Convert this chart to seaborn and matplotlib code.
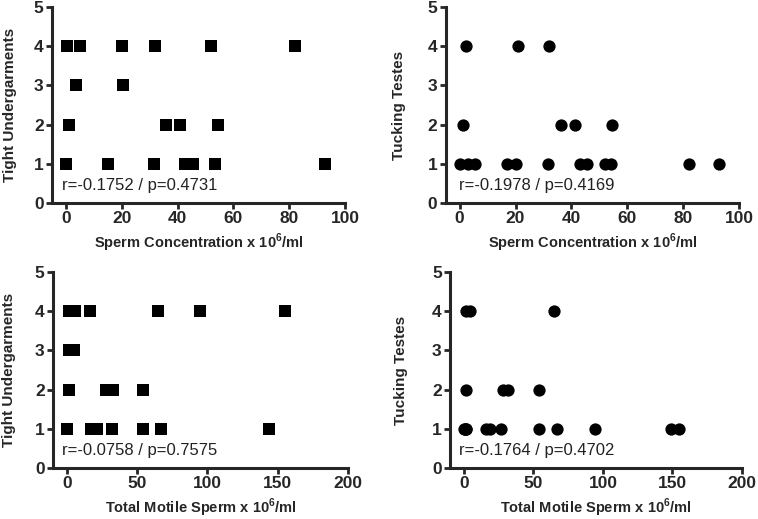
import numpy as np
import pandas as pd
import matplotlib
matplotlib.use("Agg")
import matplotlib.pyplot as plt
import seaborn as sns

# ── data ─────────────────────────────────────────────────────────────────────
# top-left: Tight Undergarments vs Sperm Concentration
tu_conc_x = [0.5, 5, 20, 32, 52, 82,
             3.5, 20.5,
             1.2, 36, 41, 54.5,
             0, 15, 31.5, 42.5, 45.5, 53.5, 93]
tu_conc_y = [4, 4, 4, 4, 4, 4,
             3, 3,
             2, 2, 2, 2,
             1, 1, 1, 1, 1, 1, 1]

# top-right: Tucking Testes vs Sperm Concentration
tt_conc_x = [2.2, 20.7, 32,
             1.2, 36.4, 41.2, 54.6,
             0, 3, 5.5, 17, 20, 31.6, 43, 45.5, 52, 54, 82, 93]
tt_conc_y = [4, 4, 4,
             2, 2, 2, 2,
             1, 1, 1, 1, 1, 1, 1, 1, 1, 1, 1, 1]

# bottom-left: Tight Undergarments vs Total Motile Sperm
tu_tms_x = [1.2, 5.5, 16.7, 64.8, 94.5, 155,
            1.5, 5,
            1.6, 28, 32.7, 54,
            0.2, 17, 21.5, 31.8, 54, 67, 144]
tu_tms_y = [4, 4, 4, 4, 4, 4,
            3, 3,
            2, 2, 2, 2,
            1, 1, 1, 1, 1, 1, 1]

# bottom-right: Tucking Testes vs Total Motile Sperm
tt_tms_x = [1.5, 4.5, 64.5,
            1.4, 27.8, 32, 53.8,
            0, 0.8, 1.8, 16, 19, 26.5, 54, 67, 94, 149, 155, 1.2]
tt_tms_y = [4, 4, 4,
            2, 2, 2, 2,
            1, 1, 1, 1, 1, 1, 1, 1, 1, 1, 1, 1]

stats_text = ["r=-0.1752 / p=0.4731", "r=-0.1978 / p=0.4169",
              "r=-0.0758 / p=0.7575", "r=-0.1764 / p=0.4702"]

conc_label = r"Sperm Concentration x 10$^{\mathbf{6}}$/ml"
tms_label = r"Total Motile Sperm x 10$^{\mathbf{6}}$/ml"

# ── style ─────────────────────────────────────────────────────────────────────
sns.set_style("ticks")
plt.rcParams["font.family"] = ["Liberation Sans", "DejaVu Sans"]
plt.rcParams["mathtext.fontset"] = "custom"
plt.rcParams["mathtext.rm"] = "Liberation Sans"
plt.rcParams["mathtext.bf"] = "Liberation Sans:bold"

fig = plt.figure(figsize=(7.58, 5.19), dpi=100)

panels = [
    # (x, y, marker, ylabel, xlabel, xmax, xstep, rect, text_x, ylabelpad)
    (tu_conc_x, tu_conc_y, "s", "Tight Undergarments", conc_label, 100, 20,
     [0.0686, 0.6089, 0.3865, 0.3776], 0.034, 12),
    (tt_conc_x, tt_conc_y, "o", "Tucking Testes", conc_label, 100, 20,
     [0.588, 0.6089, 0.387, 0.3776], 0.045, 15.5),
    (tu_tms_x, tu_tms_y, "s", "Tight Undergarments", tms_label, 200, 50,
     [0.0699, 0.0983, 0.389, 0.3776], 0.03, 13.5),
    (tt_tms_x, tt_tms_y, "o", "Tucking Testes", tms_label, 200, 50,
     [0.5937, 0.0983, 0.385, 0.3776], 0.031, 17),
]

for (xs, ys, mk, ylab, xlab, xmax, xstep, rect, tx, ypad), txt in zip(panels, stats_text):
    ax = fig.add_axes(rect)
    df = pd.DataFrame({"x": xs, "y": ys})
    sns.scatterplot(data=df, x="x", y="y", marker=mk, s=78, color="black",
                    linewidth=0, ax=ax, clip_on=False, zorder=3)
    ax.set_xlim(-xmax * 0.05, xmax)
    ax.set_ylim(0, 5)
    ax.set_xticks(np.arange(0, xmax + 1, xstep))
    ax.set_yticks(np.arange(0, 6, 1))
    sns.despine(ax=ax)
    for side in ["left", "bottom"]:
        ax.spines[side].set_linewidth(2.2)
    ax.tick_params(direction="out", length=4, width=2, labelsize=12.5, pad=2)
    for lab in ax.get_xticklabels() + ax.get_yticklabels():
        lab.set_fontweight("bold")
    ax.set_xlabel(xlab, fontsize=10.5, fontweight="bold", labelpad=4)
    ax.set_ylabel(ylab, fontsize=11, fontweight="bold", labelpad=ypad)
    ax.text(tx, 0.09, txt, transform=ax.transAxes, fontsize=12,
            color="#222222", ha="left", va="center")

plt.savefig("out.png", dpi=100)
